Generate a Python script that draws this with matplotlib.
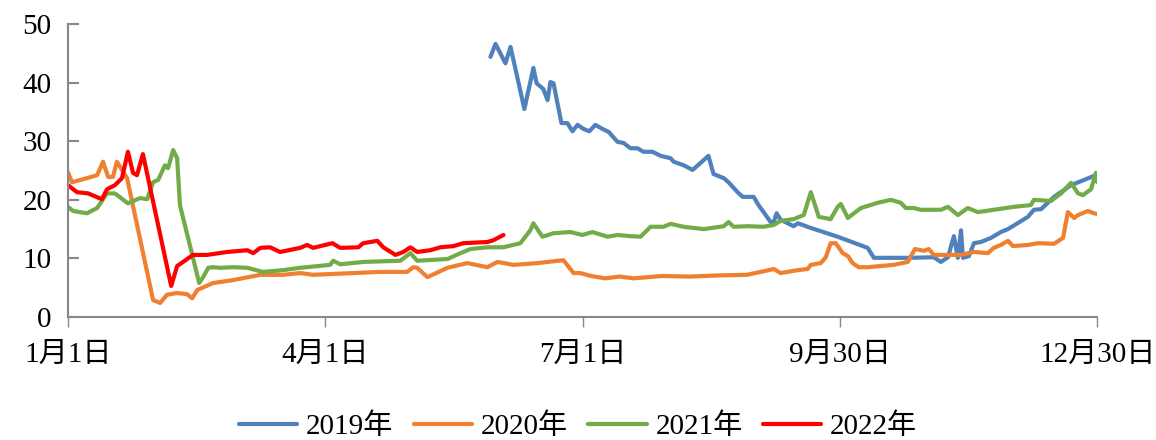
import matplotlib
matplotlib.use('Agg')
import matplotlib.pyplot as plt

# days counted from Jan 1
days_2019 = [149.4, 151.2, 154.7, 156.5, 161.4, 164.6, 165.7, 168.1, 169.6, 170.6, 171.7, 173.1,
             174.5, 176.6, 178.4, 180.2, 182.3, 184.4, 186.5, 189.0, 191.2, 194.3, 196.5, 198.9,
             201.4, 203.5, 206.7, 209.6, 213.1, 214.2, 217.7, 220.9, 223.7, 226.5, 228.3, 231.9,
             233.6, 236.8, 238.6, 242.5, 244.2, 246.0, 248.5, 249.6, 250.6, 252.0, 256.6, 258.1,
             262.7, 272.2, 282.8, 285.0, 292.0, 297.0, 306.2, 308.7, 311.2, 313.3, 314.7, 315.8,
             316.5, 318.6, 320.4, 322.8, 326.4, 329.9, 332.4, 339.5, 341.6, 344.1, 348.7, 354.7, 364]
vals_2019 = [44.4, 46.6, 43.3, 46.1, 35.5, 42.5, 39.9, 38.9, 37.0, 40.1, 39.9, 36.5,
             33.1, 33.1, 31.7, 32.8, 32.1, 31.7, 32.8, 32.1, 31.6, 29.9, 29.7, 28.8,
             28.8, 28.2, 28.2, 27.5, 27.1, 26.5, 25.9, 25.1, 26.3, 27.5, 24.4, 23.7,
             23.0, 21.3, 20.5, 20.5, 19.1, 17.9, 16.2, 16.2, 17.7, 16.6, 15.5, 16.0,
             15.2, 13.7, 11.8, 10.1, 10.1, 10.1, 10.2, 9.4, 10.2, 13.8, 10.1, 14.8,
             10.1, 10.4, 12.6, 12.8, 13.5, 14.5, 15.0, 17.1, 18.3, 18.4, 20.5, 22.5, 24.3]

days_2020 = [0, 1.4, 6.7, 10.3, 12.4, 14.2, 15.9, 17.3, 19.1, 20.9, 30.1, 32.6, 35.0, 38.6,
             42.1, 43.9, 45.7, 51.3, 58.4, 68.0, 76.1, 82.1, 86.7, 110.4, 120.0, 122.1, 123.5,
             127.1, 134.2, 141.2, 148.3, 151.9, 157.5, 166.0, 175.2, 178.8, 181.2, 185, 190,
             195, 200, 210, 220, 230, 240, 245.0, 249.6, 252.0, 258.1, 261.6, 262.7, 266.2,
             268.0, 269.7, 271.5, 274.0, 275.8, 277.5, 279.6, 282.8, 292.0, 297.0, 299.5,
             302.7, 304.4, 306.2, 315.8, 320.4, 325.3, 327.4, 329.9, 332.4, 334.2, 339.5,
             343.0, 348.7, 351.9, 353.6, 355.8, 357.2, 360.7, 362.8, 364]
vals_2020 = [24.7, 23.0, 23.7, 24.2, 26.5, 23.9, 23.9, 26.5, 25.1, 23.7, 2.9, 2.4, 3.8, 4.1,
             3.9, 3.2, 4.6, 5.8, 6.3, 7.2, 7.2, 7.5, 7.2, 7.7, 7.7, 8.5, 8.4,
             6.8, 8.4, 9.2, 8.5, 9.4, 8.9, 9.2, 9.7, 7.5, 7.5, 7.0, 6.6,
             6.9, 6.6, 7.0, 6.9, 7.1, 7.2, 7.7, 8.2, 7.5, 8.0, 8.2, 8.9, 9.2,
             10.2, 12.6, 12.6, 10.9, 10.4, 9.2, 8.5, 8.5, 8.9, 9.4, 11.6,
             11.3, 11.6, 10.6, 10.6, 11.1, 10.9, 11.8, 12.3, 13.0, 12.1, 12.3,
             12.6, 12.5, 13.5, 17.9, 16.9, 17.4, 18.1, 17.7, 17.6]

days_2021 = [0, 1.8, 6.7, 10.3, 13.8, 16.6, 21.2, 25.5, 28.0, 30.1, 31.9, 34.3, 35.4, 37.2,
             38.6, 39.6, 46.4, 47.8, 49.6, 51.3, 53.8, 58.4, 63.4, 69.0, 76.1, 82.1, 92.7,
             93.8, 96.3, 104.4, 117.5, 121.1, 123.5, 134.2, 138.8, 142.3, 148.3, 154.0, 160.0,
             163.5, 164.6, 167.8, 171.7, 177.7, 181.9, 185.5, 190.8, 194.3, 198.9, 202.5,
             206.0, 210.6, 213.1, 217.7, 224.8, 231.9, 233.6, 235.4, 240.4, 246.0, 249.6,
             252.0, 256.6, 260.2, 262.7, 265.5, 269.7, 272.2, 273.3, 275.8, 280.4, 286.4,
             291.0, 294.5, 296.3, 299.1, 301.6, 308.7, 311.2, 314.7, 318.2, 321.8, 327.4,
             334.5, 340.5, 341.6, 347.6, 351.2, 354.7, 357.2, 358.9, 361.8, 363.5, 364]
vals_2021 = [18.8, 18.1, 17.7, 18.6, 21.1, 21.1, 19.4, 20.3, 20.1, 23.0, 23.4, 25.9, 25.4, 28.5,
             27.1, 19.1, 5.8, 6.8, 8.4, 8.5, 8.4, 8.5, 8.4, 7.7, 8.0, 8.4, 8.9,
             9.6, 9.0, 9.4, 9.6, 10.9, 9.6, 9.9, 10.9, 11.6, 11.9, 11.9, 12.6,
             14.8, 16.0, 13.7, 14.3, 14.5, 14.0, 14.5, 13.7, 14.0, 13.8, 13.7,
             15.4, 15.4, 15.9, 15.4, 15.0, 15.5, 16.2, 15.4, 15.5, 15.4, 15.7,
             16.4, 16.7, 17.4, 21.3, 17.1, 16.7, 18.8, 19.3, 16.9, 18.6, 19.5,
             20.0, 19.5, 18.6, 18.6, 18.3, 18.3, 18.8, 17.4, 18.6, 17.9, 18.3,
             18.8, 19.1, 20.0, 19.8, 21.1, 22.9, 21.1, 20.8, 21.8, 24.6, 23.0]

days_2022 = [0, 3.2, 7.1, 12.0, 13.8, 16.6, 19.1, 21.2, 23.0, 24.4, 26.5, 36.5, 38.6, 40.7,
             44.2, 49.2, 56.3, 63.4, 65.5, 68.0, 71.5, 75.0, 82.1, 84.6, 86.7, 93.5, 96.3,
             102.7, 104.4, 109.4, 111.5, 115.8, 118.6, 121.1, 123.5, 128.1, 131.7, 136.3,
             139.8, 148.3, 150.4, 154.0]
vals_2022 = [22.5, 21.3, 21.1, 20.1, 21.8, 22.5, 23.7, 28.2, 24.6, 24.2, 27.8, 5.3, 8.7, 9.4,
             10.6, 10.6, 11.1, 11.4, 10.9, 11.8, 11.9, 11.1, 11.8, 12.3, 11.8, 12.6, 11.8,
             11.9, 12.6, 13.0, 11.9, 10.6, 11.1, 11.9, 11.1, 11.4, 11.9, 12.1,
             12.6, 12.8, 13.1, 14.0]

tick_days = [0, 91, 182, 273, 364]
tick_labels = ['1月1日', '4月1日', '7月1日', '9月30日', '12月30日']

plt.rcParams['font.family'] = ['Liberation Serif', 'Noto Sans CJK SC']
plt.rcParams['font.size'] = 21

fig = plt.figure(figsize=(11.56, 4.4), dpi=100)
ax = fig.add_axes([0.0588, 0.2795, 0.8904, 0.6659])

line_kw = dict(lw=3.0, solid_joinstyle='round', solid_capstyle='round')
ax.plot(days_2019, vals_2019, color='#4F81BD', label='2019年', **line_kw)
ax.plot(days_2020, vals_2020, color='#F08030', label='2020年', **line_kw)
ax.plot(days_2021, vals_2021, color='#72AC48', label='2021年', **line_kw)
ax.plot(days_2022, vals_2022, color='#FF0000', label='2022年', **line_kw)

ax.set_xlim(0, 364)
ax.set_ylim(0, 50)
ax.set_yticks([0, 10, 20, 30, 40, 50])
ax.set_xticks(tick_days)
ax.set_xticklabels(tick_labels)

for s in ['top', 'right']:
    ax.spines[s].set_visible(False)
for s in ['left', 'bottom']:
    ax.spines[s].set_color('#888888')
    ax.spines[s].set_linewidth(1.5)
ax.tick_params(axis='y', direction='in', length=8, width=1.5, color='#888888', pad=12)
ax.tick_params(axis='x', direction='out', length=7, width=1, color='#888888', pad=11)

fig.legend(loc='center', bbox_to_anchor=(0.5, 0.03), ncol=4, frameon=False,
           handlelength=2.0, handletextpad=0.3, columnspacing=0.7)

plt.savefig('out.png')
